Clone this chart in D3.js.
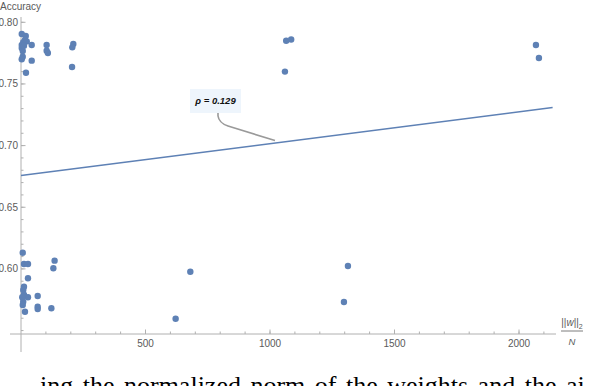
<!DOCTYPE html>
<html><head><meta charset="utf-8">
<script src="https://cdn.jsdelivr.net/npm/d3@7"></script>
<style>body{margin:0;background:#fff;overflow:hidden}svg{display:block}</style>
</head><body>
<script>
// normalized weight norm ||w||_2 / N
const normX = [3,19,16,9,3,3,7,7,3,43,43,20,103,103,108,210,206,205,23,12,
  1065,1085,1060,2068,2080,
  7,12,28,135,130,28,12,9,12,28,9,7,16,67,67,67,122,621,680,1313,1297,5];
// accuracy
const accY = [0.7905,0.7889,0.7856,0.7838,0.7816,0.7792,0.7767,0.7721,0.7700,0.7816,0.7689,0.7591,0.7816,0.7770,0.7751,0.7824,0.7797,0.7637,0.7845,0.7810,
  0.7850,0.7860,0.7600,0.7816,0.7710,
  0.6131,0.6040,0.6040,0.6067,0.6005,0.5924,0.5856,0.5829,0.5790,0.5770,0.5734,0.5707,0.5653,0.5780,0.5694,0.5675,0.5681,0.5596,0.5977,0.6024,0.5732,0.5770];
const xTicks = [500,1000,1500,2000];
const yTicks = [0.60,0.65,0.70,0.75,0.80];
const fitLine = [[0,0.6757],[2135,0.7309]];
const rhoLabel = "ρ = 0.129";
const annotAt = 1020;

const W=598,H=386;
const svg=d3.select("body").append("svg").attr("width",W).attr("height",H);
const x=d3.scaleLinear().domain([0,2000]).range([21,519]);
const y=d3.scaleLinear().domain([0.60,0.80]).range([268.9,22.3]);
const axisCol="#b0b0b0", txtCol="#5a5a5a", blue="#5e81b5";
const xAxisY=334;

// axes lines
svg.append("line").attr("x1",x(0)).attr("x2",x(0)).attr("y1",17).attr("y2",352)
  .attr("stroke",axisCol).attr("stroke-width",1);
svg.append("line").attr("x1",10).attr("x2",556).attr("y1",xAxisY).attr("y2",xAxisY)
  .attr("stroke",axisCol).attr("stroke-width",1);

// y ticks
const yMinor=d3.range(0.55,0.805,0.01);
svg.selectAll(".ym").data(yMinor).enter().append("line")
  .attr("x1",x(0)).attr("x2",x(0)+2.5).attr("y1",d=>y(d)).attr("y2",d=>y(d))
  .attr("stroke",axisCol);
svg.selectAll(".yM").data(yTicks).enter().append("line")
  .attr("x1",x(0)).attr("x2",x(0)+4.5).attr("y1",d=>y(d)).attr("y2",d=>y(d))
  .attr("stroke",axisCol);
svg.selectAll(".yl").data(yTicks).enter().append("text")
  .attr("x",x(0)-3).attr("y",d=>y(d)+3.5).attr("text-anchor","end")
  .attr("font-family","Liberation Sans, Arial, sans-serif").attr("font-size",10)
  .attr("fill",txtCol).text(d=>d.toFixed(2));

// x ticks
const xMinor=d3.range(100,2200,100);
svg.selectAll(".xm").data(xMinor).enter().append("line")
  .attr("x1",d=>x(d)).attr("x2",d=>x(d)).attr("y1",xAxisY).attr("y2",xAxisY-2.5)
  .attr("stroke",axisCol);
svg.selectAll(".xM").data(xTicks).enter().append("line")
  .attr("x1",d=>x(d)).attr("x2",d=>x(d)).attr("y1",xAxisY).attr("y2",xAxisY-4.5)
  .attr("stroke",axisCol);
svg.selectAll(".xl").data(xTicks).enter().append("text")
  .attr("x",d=>x(d)).attr("y",xAxisY+13).attr("text-anchor","middle")
  .attr("font-family","Liberation Sans, Arial, sans-serif").attr("font-size",10)
  .attr("fill",txtCol).text(d=>d);

// axis labels
svg.append("text").attr("x",0).attr("y",10).attr("font-family","Liberation Sans, Arial, sans-serif")
  .attr("font-size",10).attr("fill",txtCol).text("Accuracy");
const fx=572;
const num=svg.append("text").attr("x",fx).attr("y",326).attr("text-anchor","middle")
  .attr("font-family","Liberation Sans, Arial, sans-serif").attr("font-size",10).attr("fill",txtCol);
num.append("tspan").text("||");
num.append("tspan").attr("font-style","italic").text("w");
num.append("tspan").text("||");
num.append("tspan").attr("font-size",7).attr("dy",3).text("2");
svg.append("line").attr("x1",fx-11).attr("x2",fx+11).attr("y1",331).attr("y2",331)
  .attr("stroke",txtCol).attr("stroke-width",0.8);
svg.append("text").attr("x",fx).attr("y",345).attr("text-anchor","middle")
  .attr("font-family","Liberation Sans, Arial, sans-serif").attr("font-size",9.5)
  .attr("font-style","italic").attr("fill",txtCol).text("N");

// points
svg.selectAll(".pt").data(normX.map((v,i)=>[v,accY[i]])).enter().append("circle")
  .attr("cx",d=>x(d[0])).attr("cy",d=>y(d[1])).attr("r",3.2).attr("fill",blue);

// fit line
svg.append("line").attr("x1",x(fitLine[0][0])).attr("y1",y(fitLine[0][1]))
  .attr("x2",x(fitLine[1][0])).attr("y2",y(fitLine[1][1]))
  .attr("stroke",blue).attr("stroke-width",1.6);

// annotation
const slope=(fitLine[1][1]-fitLine[0][1])/(fitLine[1][0]-fitLine[0][0]);
const ax=x(annotAt), ay=y(fitLine[0][1]+slope*annotAt)-2.5;
svg.append("path").attr("d",`M${ax},${ay} L228,126 Q219,123 218,116 L218,112`)
  .attr("fill","none").attr("stroke","#9a9a9a").attr("stroke-width",1.6);
svg.append("rect").attr("x",190).attr("y",89).attr("width",51).attr("height",24)
  .attr("fill","#eef5fc");
svg.append("text").attr("x",215.5).attr("y",104).attr("text-anchor","middle")
  .attr("font-family","Liberation Sans, Arial, sans-serif").attr("font-size",9.5)
  .attr("font-weight","bold").attr("font-style","italic").attr("fill","#111").text(rhoLabel);

// cropped caption text (cut off by the picture's bottom edge, as in the reference)
svg.append("text").attr("x",40).attr("y",394).attr("font-family","Liberation Serif, Times New Roman, serif")
  .attr("font-size",26).attr("fill","#000").attr("word-spacing",3).text("ing the normalized norm of the weights and the ai");
</script>
</body></html>
